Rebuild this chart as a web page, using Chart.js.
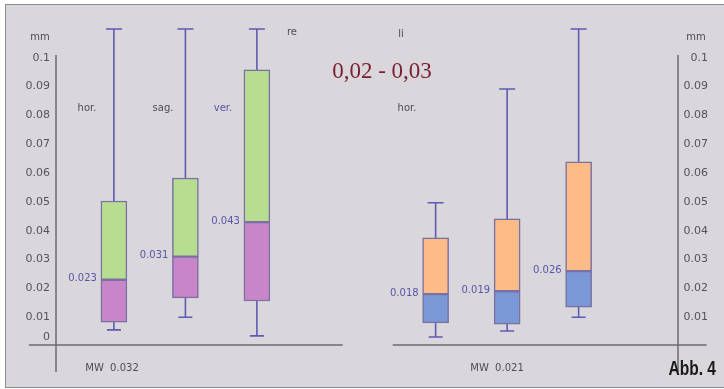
<!DOCTYPE html>
<html>
<head>
<meta charset="utf-8">
<script src="https://cdn.jsdelivr.net/npm/chart.js@4/dist/chart.umd.min.js"></script>
<style>
  html, body { margin: 0; padding: 0; background: #ffffff; overflow: hidden; }
  #frame { position: absolute; left: 5px; top: 4px; width: 730px; height: 382px;
           background: #d9d6dc; border: 1px solid #8c8a90; border-right: none; }
  #wrap { position: absolute; left: 0; top: 0; width: 724px; height: 389px; }
</style>
</head>
<body>
<div id="frame"></div>
<div id="wrap"><canvas id="boxChart" width="724" height="389"></canvas></div>
<script>
// Box plot, re / li
// ------------------------------
var groups = ["re", "re", "re", "li", "li", "li"];
var categories = ["hor.", "sag.", "ver.", "hor.", "sag.", "ver."];
var slots = [1, 2, 3, 5.5, 6.5, 7.5];

var whiskerLow  = [0.0056, 0.0100, 0.0035, 0.0031, 0.0052, 0.0100];
var q1          = [0.0083, 0.0167, 0.0156, 0.0080, 0.0076, 0.0135];
var median      = [0.023, 0.031, 0.043, 0.018, 0.019, 0.026];
var q3          = [0.0503, 0.0583, 0.0958, 0.0375, 0.0441, 0.0639];
var whiskerHigh = [0.110, 0.110, 0.110, 0.0497, 0.0892, 0.110];

var meanLabels = ["MW  0.032", "MW  0.021"];
var leftTicks = [0, 0.01, 0.02, 0.03, 0.04, 0.05, 0.06, 0.07, 0.08, 0.09, 0.1];
var rightTicks = [0.01, 0.02, 0.03, 0.04, 0.05, 0.06, 0.07, 0.08, 0.09, 0.1];

var lowColor = { re: "#c885c7", li: "#7b98d6" };
var highColor = { re: "#b7de90", li: "#fdbb86" };
var boxBorder = "#7a70a3";
var whiskerColor = "#5f5ab2";
var axisColor = "#6d6c72";
var textColor = "#4e4e52";
var blueText = "#5955a6";

function fmtTick(v) {
    if (v === 0) return ["0", ""];
    return String(+v.toFixed(2));
}

// whiskers, axis lines and labels
var decorPlugin = {
    id: "decor",
    beforeDatasetsDraw: function(chart) {
        var ctx = chart.ctx, xs = chart.scales.x, ys = chart.scales.y;
        ctx.save();
        ctx.strokeStyle = whiskerColor;
        ctx.lineWidth = 1.6;
        for (var i = 0; i < slots.length; i++) {
            var x = xs.getPixelForValue(slots[i]);
            var yl = ys.getPixelForValue(whiskerLow[i]);
            var yh = ys.getPixelForValue(whiskerHigh[i]);
            ctx.beginPath();
            ctx.moveTo(x, yl); ctx.lineTo(x, ys.getPixelForValue(q1[i]));
            ctx.moveTo(x, ys.getPixelForValue(q3[i])); ctx.lineTo(x, yh);
            ctx.moveTo(x - 7, yl); ctx.lineTo(x + 7, yl);
            ctx.moveTo(x - 8, yh); ctx.lineTo(x + 8, yh);
            ctx.stroke();
        }
        ctx.restore();
    },
    afterDatasetsDraw: function(chart) {
        var ctx = chart.ctx, xs = chart.scales.x, ys = chart.scales.y;
        var area = chart.chartArea;
        var y0 = ys.getPixelForValue(0);
        ctx.save();

        // axis lines
        ctx.strokeStyle = axisColor;
        ctx.lineWidth = 1.5;
        ctx.beginPath();
        ctx.moveTo(xs.getPixelForValue(-0.19), y0 - 1); ctx.lineTo(xs.getPixelForValue(4.2), y0 - 1);
        ctx.moveTo(xs.getPixelForValue(4.9), y0 - 1); ctx.lineTo(xs.getPixelForValue(9.29), y0 - 1);
        ctx.moveTo(area.left, ys.getPixelForValue(0.101)); ctx.lineTo(area.left, y0 + 26);
        ctx.moveTo(area.right, ys.getPixelForValue(0.101)); ctx.lineTo(area.right, y0 + 26);
        ctx.stroke();

        // medians
        ctx.font = "10px 'DejaVu Sans'";
        ctx.fillStyle = blueText;
        ctx.textAlign = "right";
        ctx.textBaseline = "middle";
        for (var i = 0; i < slots.length; i++) {
            ctx.fillText(median[i].toFixed(3), xs.getPixelForValue(slots[i]) - 17, ys.getPixelForValue(median[i]) - 1);
        }

        // text
        ctx.textAlign = "center";
        ctx.fillStyle = textColor;
        ctx.fillText("mm", 40, 37);
        ctx.fillText("mm", 696, 37);
        ctx.fillText(categories[0], 87, 108);
        ctx.fillText(categories[1], 163, 108);
        ctx.fillText(categories[3], 407, 108);
        ctx.fillText(groups[0], 292, 32);
        ctx.fillText(groups[3], 401, 34);
        ctx.fillText(meanLabels[0], 112, 368);
        ctx.fillText(meanLabels[1], 497, 368);
        ctx.fillStyle = blueText;
        ctx.fillText(categories[2], 223, 108);

        ctx.fillStyle = "#7a1d31";
        ctx.font = "23px 'Liberation Serif'";
        ctx.fillText("0,02 - 0,03", 382, 72);

        // condensed figure tag
        ctx.fillStyle = "#1a1a1a";
        ctx.textAlign = "right";
        ctx.textBaseline = "alphabetic";
        ctx.font = "bold 21px 'Liberation Sans', sans-serif";
        ctx.translate(716, 375);
        ctx.scale(0.74, 1);
        ctx.fillText("Abb. 4", 0, 0);
        ctx.restore();
    }
};

var chartData = {
    datasets: [{
        label: "q1 - median",
        data: slots.map(function(s, i) { return { x: s, y: [q1[i], median[i]] }; }),
        backgroundColor: groups.map(function(g) { return lowColor[g]; }),
    }, {
        label: "median - q3",
        data: slots.map(function(s, i) { return { x: s, y: [median[i], q3[i]] }; }),
        backgroundColor: groups.map(function(g) { return highColor[g]; }),
    }]
};

var chartOptions = {
    responsive: false,
    animation: false,
    layout: { padding: { top: 29, bottom: 43, left: 0, right: 16 } },
    datasets: {
        bar: {
            grouped: false,
            barThickness: 26,
            borderColor: boxBorder,
            borderWidth: 1.5,
            borderSkipped: false
        }
    },
    plugins: { legend: { display: false }, tooltip: { enabled: false } },
    scales: {
        x: { type: "linear", min: 0.19, max: 8.89, offset: false, display: false },
        y: {
            position: "left", min: 0, max: 0.11,
            afterBuildTicks: function(s) { s.ticks = leftTicks.map(function(v) { return { value: v }; }); },
            afterFit: function(s) { s.width = 56; },
            grid: { display: false, drawTicks: false },
            border: { display: false },
            ticks: { autoSkip: false, padding: 6, color: "#545458",
                     font: { family: "DejaVu Sans", size: 11, lineHeight: 1.6 },
                     callback: fmtTick }
        },
        y2: {
            position: "right", min: 0, max: 0.11,
            afterBuildTicks: function(s) { s.ticks = rightTicks.map(function(v) { return { value: v }; }); },
            afterFit: function(s) { s.width = 30; },
            grid: { display: false, drawTicks: false },
            border: { display: false },
            ticks: { autoSkip: false, crossAlign: "far", padding: 6, color: "#545458",
                     font: { family: "DejaVu Sans", size: 11 },
                     callback: fmtTick }
        }
    }
};

var config = {
    type: "bar",
    data: chartData,
    options: chartOptions,
    plugins: [decorPlugin]
};

var boxChart = new Chart(document.getElementById("boxChart"), config);
</script>
</body>
</html>
